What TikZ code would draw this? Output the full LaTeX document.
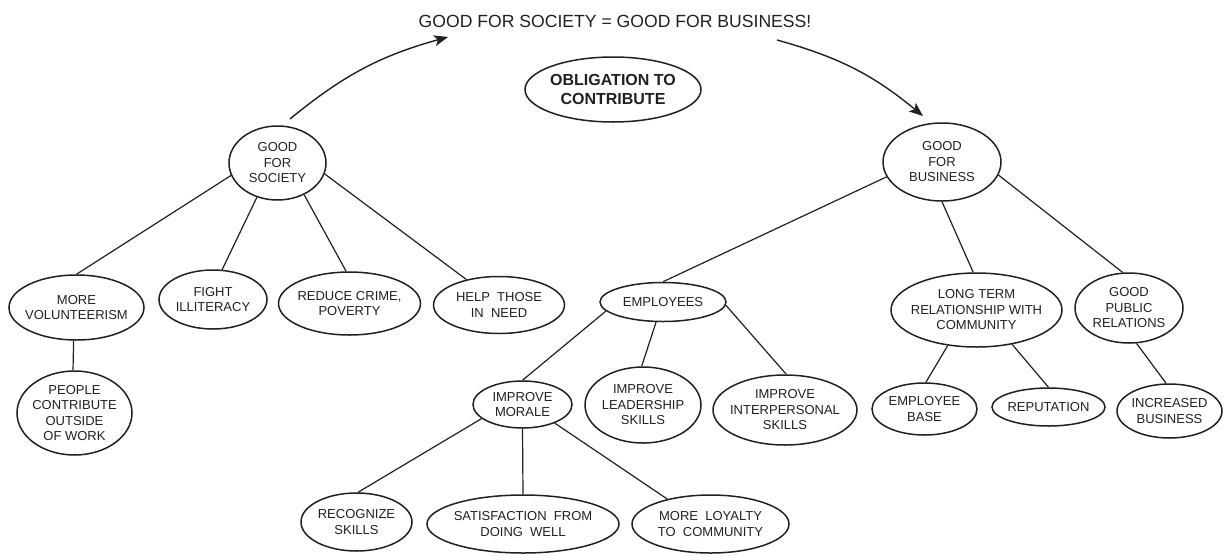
\documentclass[tikz,border=0pt]{standalone}
\usepackage{fontspec}
\setmainfont{Liberation Sans}
\usetikzlibrary{shapes.geometric,arrows.meta}
\definecolor{ink}{RGB}{35,31,32}
\begin{document}
\begin{tikzpicture}[x=1pt,y=-1pt,
  bub/.style={ellipse, draw=ink, line width=1.5pt, inner xsep=-25pt, inner ysep=-12pt,
    align=center, text=ink, font=\fontsize{13}{15.5}\selectfont},
  link/.style={draw=ink, line width=1.2pt},
  bigarrow/.style={draw=ink, line width=1.4pt, -{Stealth[length=14pt,width=11pt,inset=3.5pt]}}]
\useasboundingbox (0,0) rectangle (1226,555);

\node[text=ink, font=\fontsize{17.6}{20}\selectfont] (title) at (615,21) {GOOD FOR SOCIETY = GOOD FOR BUSINESS!};
\node[bub, font=\fontsize{16}{18.5}\selectfont\bfseries, minimum width=176pt, minimum height=65pt] (obl) at (613,89.5) {OBLIGATION TO\\CONTRIBUTE};

\node[bub, minimum width=97pt, minimum height=74pt] (gfs) at (277.5,163) {GOOD\\FOR\\SOCIETY};
\node[bub, minimum width=118pt, minimum height=78pt] (gfb) at (942,162) {GOOD\\FOR\\BUSINESS};

\node[bub, minimum width=135pt, minimum height=65pt] (vol) at (76.5,307.5) {MORE\\VOLUNTEERISM};
\node[bub, minimum width=108pt, minimum height=59pt] (fight) at (213,299.5) {FIGHT\\ILLITERACY};
\node[bub, minimum width=142pt, minimum height=63pt] (reduce) at (349.5,303.5) {REDUCE CRIME,\\POVERTY};
\node[bub, minimum width=131pt, minimum height=57pt] (help) at (499,305) {HELP\ \ THOSE\\IN\ \ NEED};
\node[bub, minimum width=115pt, minimum height=84pt] (people) at (74.5,413) {PEOPLE\\CONTRIBUTE\\OUTSIDE\\OF WORK};

\node[bub, minimum width=126pt, minimum height=39pt] (emp) at (663,302) {EMPLOYEES};
\node[bub, minimum width=171pt, minimum height=74pt] (lt) at (976.5,310) {LONG TERM\\RELATIONSHIP WITH\\COMMUNITY};
\node[bub, minimum width=108pt, minimum height=70pt] (pr) at (1129,308) {GOOD\\PUBLIC\\RELATIONS};

\node[bub, minimum width=99pt, minimum height=47pt] (morale) at (522.5,404.5) {IMPROVE\\MORALE};
\node[bub, minimum width=116pt, minimum height=76pt] (lead) at (643,405) {IMPROVE\\LEADERSHIP\\SKILLS};
\node[bub, minimum width=144pt, minimum height=70pt] (inter) at (785,410) {IMPROVE\\INTERPERSONAL\\SKILLS};
\node[bub, minimum width=105pt, minimum height=52pt] (base) at (924.5,409) {EMPLOYEE\\BASE};
\node[bub, minimum width=113pt, minimum height=38pt] (rep) at (1048.5,407) {REPUTATION};
\node[bub, minimum width=105pt, minimum height=54pt] (inc) at (1169.5,411) {INCREASED\\BUSINESS};

\node[bub, minimum width=111pt, minimum height=58pt] (rec) at (356.5,522) {RECOGNIZE\\SKILLS};
\node[bub, minimum width=192pt, minimum height=58pt] (sat) at (523,524) {SATISFACTION\ \ FROM\\DOING\ \ WELL};
\node[bub, minimum width=157pt, minimum height=58pt] (loy) at (710.5,524) {MORE\ \ LOYALTY\\TO\ \ COMMUNITY};

\coordinate (a1s) at (290,119);
\coordinate (a1e) at (448,37);
\coordinate (a2s) at (777,40);
\coordinate (a2e) at (923,116);
\draw[bigarrow] (a1s) to[bend left=12] (a1e);
\draw[bigarrow] (a2s) to[bend left=12] (a2e);

\draw[link] (gfs.195) -- (vol.north);
\draw[link] (gfs.239) -- (fight.73);
\draw[link] (gfs.310) -- (reduce.96);
\draw[link] (gfs.347) -- (help.142);
\draw[link] (vol.265) -- (people.92);
\draw[link] (gfb.195) -- (emp.north);
\draw[link] (gfb.270) -- (lt.95);
\draw[link] (gfb.347) -- (pr.100);
\draw[link] (emp.189) -- (morale.north);
\draw[link] (emp.251) -- (lead.92);
\draw[link] (emp.357) -- (inter.88);
\draw[link] (morale.199) -- (rec.87);
\draw[link] (morale.south) -- (sat.north);
\draw[link] (morale.330) -- (loy.150);
\draw[link] (lt.231) -- (base.87);
\draw[link] (lt.316) -- (rep.north);
\draw[link] (pr.282) -- (inc.97);
\end{tikzpicture}
\end{document}
